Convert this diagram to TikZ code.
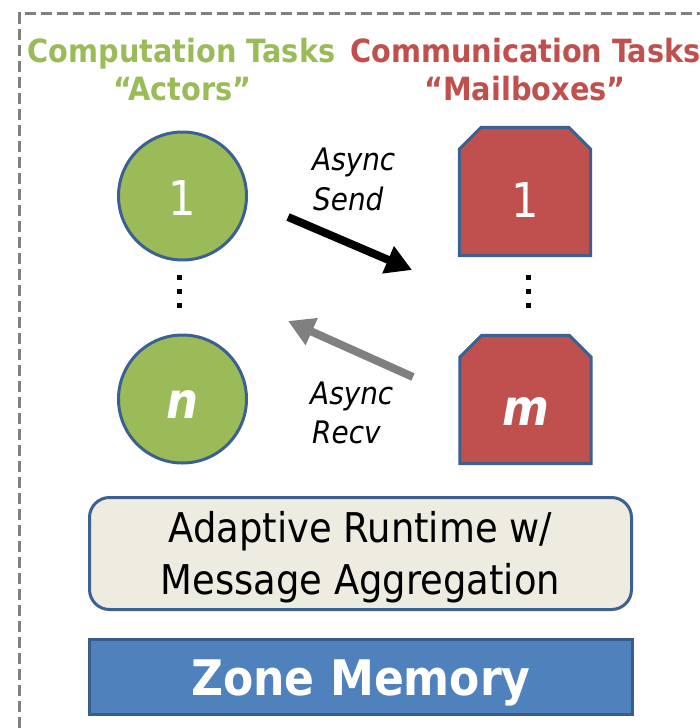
\documentclass[tikz,border=0pt]{standalone}
\usepackage{fontspec}
\setmainfont{DejaVu Sans Condensed}
\usetikzlibrary{arrows.meta,backgrounds}
\definecolor{actorgreen}{HTML}{9BBB59}
\definecolor{mailred}{HTML}{C0504D}
\definecolor{outlineblue}{HTML}{3C6191}
\definecolor{runtimefill}{HTML}{EEECE1}
\definecolor{zonefill}{HTML}{4F81BD}
\definecolor{zoneedge}{HTML}{385D8A}
\definecolor{framegray}{HTML}{808080}
\begin{document}
\begin{tikzpicture}[x=1pt,y=-1pt,
  actor/.style={circle, fill=actorgreen, draw=outlineblue, line width=3pt,
    minimum size=128pt, inner sep=0pt, text=white, text height=38pt, text depth=0pt},
  mailslot/.style={rectangle, minimum width=131pt, minimum height=128pt,
    inner sep=0pt, text=white, text height=51pt, text depth=0pt},
  mailedge/.style={fill=mailred, draw=outlineblue, line width=3pt, line join=miter},
  numfont/.style={font=\fontsize{48}{48}\selectfont},
  varfont/.style={font=\fontsize{50}{50}\selectfont\bfseries\itshape},
  heading/.style={font=\fontsize{32}{38}\selectfont\bfseries, inner sep=0pt, anchor=base},
  asyncfont/.style={font=\fontsize{31}{31}\selectfont\itshape, inner sep=0pt, anchor=base west},
  vdot/.style={rectangle, fill=black, minimum size=5pt, inner sep=0pt},
  msgarrow/.style={line width=8pt, -{Triangle[length=26pt,width=28pt]}},
]
\useasboundingbox (0,0) rectangle (699,728);

% dashed enclosing frame (continues past the right and bottom edges)
\draw[framegray, line width=3.5pt, dash pattern=on 11pt off 5pt]
  (19.5,760) -- (19.5,13.5) -- (730,13.5);

% column headings
\node[heading, text=actorgreen] (comph) at (181.5,62) {Computation Tasks};
\node[heading, text=actorgreen] (actorsh) at (182.5,100) {“Actors”};
\node[heading, text=mailred, anchor=base west] (commh) at (350,62) {Communication Tasks};
\node[heading, text=mailred] (mailh) at (525,100) {“Mailboxes”};

% actors
\node[actor, numfont] (a1) at (182.5,196) {1};
\node[actor, varfont] (an) at (182.5,399) {n};

% mailboxes
\node[mailslot, numfont] (m1) at (525,191.5) {1};
\node[mailslot, varfont] (mm) at (525.5,399.5) {m};
\begin{scope}[on background layer]
  \foreach \mb in {m1,mm}{
    \draw[mailedge] ([xshift=22pt]\mb.north west) -- ([xshift=-22pt]\mb.north east)
      -- ([yshift=-22pt]\mb.north east) -- (\mb.south east) -- (\mb.south west)
      -- ([yshift=-22pt]\mb.north west) -- cycle;
  }
\end{scope}

% vertical ellipses
\foreach \y [count=\i] in {277,291,305}{
  \node[vdot] (ldot\i) at (179,\y) {};
  \node[vdot] (rdot\i) at (528,\y) {};
}

% message arrows
\coordinate (sendtail) at (288,217);
\coordinate (sendtip) at (412,270);
\coordinate (recvtail) at (413,377);
\coordinate (recvtip) at (288,321);
\draw[msgarrow, black] (sendtail) -- (sendtip);
\draw[msgarrow, framegray] (recvtail) -- (recvtip);

\node[asyncfont] (send1) at (312,170) {Async};
\node[asyncfont] (send2) at (313,210) {Send};
\node[asyncfont] (recv1) at (310,404) {Async};
\node[asyncfont] (recv2) at (312,443) {Recv};

% runtime and memory layers
\node[rectangle, rounded corners=20pt, fill=runtimefill, draw=outlineblue, line width=3pt,
  minimum width=542pt, minimum height=112pt, inner sep=0pt] (rt) at (360.5,553.5) {};
\node[align=center, inner sep=0pt, font=\fontsize{41}{52}\selectfont] (rttext)
  at ([yshift=-4pt]rt.center) {Adaptive Runtime w/\\Message Aggregation};
\node[rectangle, fill=zonefill, draw=zoneedge, line width=3pt,
  minimum width=543pt, minimum height=75pt, inner sep=0pt, text=white,
  text height=36pt, text depth=0pt,
  font=\fontsize{49}{49}\selectfont\bfseries] (zm) at (361,677) {Zone Memory};
\end{tikzpicture}
\end{document}
